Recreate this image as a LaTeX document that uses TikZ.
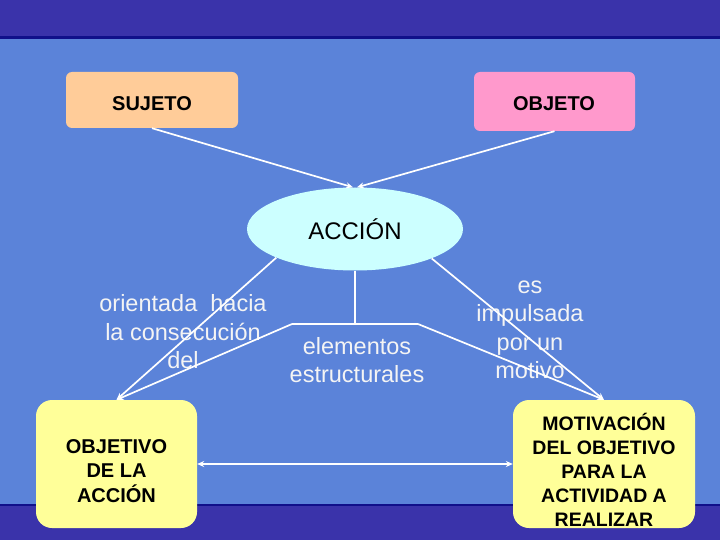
\documentclass[tikz,border=0pt]{standalone}
\usepackage{fontspec}
\setmainfont{Liberation Sans}
\usetikzlibrary{shapes.geometric,arrows.meta}
\definecolor{bandc}{HTML}{3A33AA}
\definecolor{mainc}{HTML}{5B83D9}
\definecolor{edgec}{HTML}{10108A}
\definecolor{peach}{HTML}{FFCC99}
\definecolor{pinkc}{HTML}{FF99CC}
\definecolor{cyanc}{HTML}{CCFFFF}
\definecolor{yellowc}{HTML}{FFFF99}
\definecolor{lightt}{HTML}{F4F4F4}
\tikzset{
  box/.style={draw=none, rounded corners=6pt, inner sep=0pt, font=\bfseries\fontsize{20}{24.5}\selectfont, text=black, align=center},
  bigbox/.style={box, rounded corners=16pt},
  conn/.style={draw=white, line width=1.7pt, -{Stealth[length=7pt,width=6pt]}},
  plain/.style={draw=white, line width=1.2pt},
  lbl/.style={text=lightt, align=center, font=\fontsize{23.5}{28.5}\selectfont, inner sep=0pt},
}
\begin{document}
\begin{tikzpicture}[x=1pt,y=-1pt]
\useasboundingbox (0,0) rectangle (720,540);
\fill[bandc] (0,0) rectangle (720,540);
\fill[mainc] (0,37) rectangle (720,505);
\fill[edgec] (0,36.5) rectangle (720,39);
\fill[edgec] (0,503.5) rectangle (720,506);

\node[box, fill=peach, minimum width=172, minimum height=56] (sujeto) at (152,100) {};
\node[font=\bfseries\fontsize{20}{24}\selectfont] at (152,104) {SUJETO};
\node[box, fill=pinkc, minimum width=161, minimum height=59] (objeto) at (554.5,101.5) {};
\node[font=\bfseries\fontsize{20}{24}\selectfont] at (554,104) {OBJETO};

\node[ellipse, fill=cyanc, minimum width=216, minimum height=83, inner sep=0pt, font=\fontsize{24}{28}\selectfont] (accion) at (355,229) {ACCIÓN};

\node[bigbox, fill=yellowc, minimum width=161, minimum height=128] (objetivo) at (116.5,464) {};
\node[box] at (116.5,471) {OBJETIVO\\DE LA\\ACCIÓN};
\node[bigbox, fill=yellowc, minimum width=182, minimum height=128] (motivacion) at (604,464) {};
\node[box, font=\bfseries\fontsize{19.5}{24}\selectfont] at (604,470) {MOTIVACIÓN\\DEL OBJETIVO\\PARA LA\\ACTIVIDAD A\\REALIZAR};

\node[lbl] (l1) at (183,332) {orientada\ \ hacia\\la consecución\\del};
\node[lbl] (l2) at (357,360) {elementos\\estructurales};
\node[lbl] (l3) at (530,330) {es\\impulsada\\por un\\motivo};

\coordinate (junc) at (355,324);
\coordinate (jl) at (292,324);
\coordinate (jr) at (418,324);

\draw[conn] (sujeto.south) -- ([xshift=-2pt]accion.north);
\draw[conn] (objeto.south) -- ([xshift=2pt]accion.north);
\draw[conn] (accion.200.6) -- (objetivo.north);
\draw[conn] (accion.339.4) -- (motivacion.north);
\draw[plain] (accion.south) -- (junc);
\draw[conn, -] (jl) -- (jr);
\draw[conn] (jl) -- (objetivo.north);
\draw[conn] (jr) -- (motivacion.north);
\draw[conn, {Stealth[length=7pt,width=6pt]}-{Stealth[length=7pt,width=6pt]}] (objetivo.east) -- (motivacion.west);
\end{tikzpicture}
\end{document}
